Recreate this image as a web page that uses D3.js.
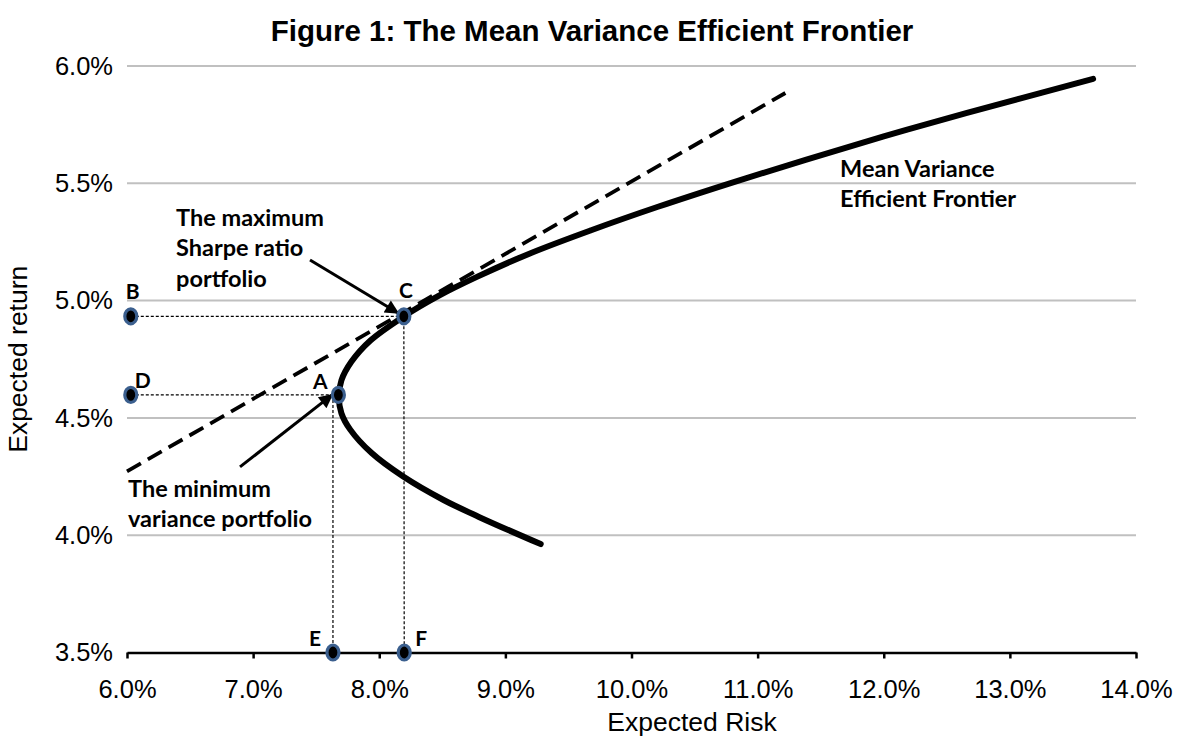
<!DOCTYPE html>
<html>
<head>
<meta charset="utf-8">
<script src="https://cdn.jsdelivr.net/npm/d3@7"></script>
<style>
  html, body { margin: 0; padding: 0; background: #ffffff; }
  svg { display: block; }
</style>
</head>
<body>
<svg id="chart" width="1189" height="737"></svg>
<script>
// ---------------- data ----------------
const xTickValues = [6, 7, 8, 9, 10, 11, 12, 13, 14];
const xTickLabels = ["6.0%", "7.0%", "8.0%", "9.0%", "10.0%", "11.0%", "12.0%", "13.0%", "14.0%"];
const yTickValues = [3.5, 4.0, 4.5, 5.0, 5.5, 6.0];
const yTickLabels = ["3.5%", "4.0%", "4.5%", "5.0%", "5.5%", "6.0%"];

// efficient frontier (expected risk %, expected return %)
const frontierRisk   = [9.28, 8.79, 8.51, 8.19, 7.94, 7.77, 7.70, 7.68, 7.70, 7.78, 7.93, 8.19, 8.47, 8.77, 9.19, 9.68, 10.21, 10.78, 11.38, 12.00, 12.66, 13.66];
const frontierReturn = [3.962, 4.078, 4.15, 4.25, 4.35, 4.45, 4.52, 4.59, 4.66, 4.74, 4.83, 4.931, 5.02, 5.10, 5.20, 5.30, 5.40, 5.50, 5.60, 5.70, 5.80, 5.945];

// tangent (capital market) line
const tangentRisk   = [6.0, 11.22];
const tangentReturn = [4.272, 5.885];

// labelled points
const pointNames  = ["A", "B", "C", "D", "E", "F"];
const pointRisk   = [7.676, 6.03, 8.195, 6.03, 7.633, 8.198];
const pointReturn = [4.598, 4.933, 4.933, 4.598, 3.5, 3.5];

// annotation texts and their anchor (risk, return)
const annotationLines = [
  ["The maximum", "Sharpe ratio", "portfolio"],
  ["The minimum", "variance portfolio"],
  ["Mean Variance", "Efficient Frontier"]
];
const annotationRisk   = [6.389, 6.008, 11.654];
const annotationReturn = [5.318, 4.163, 5.527];

// arrows (from -> to), in data units
const arrowFromRisk   = [7.451, 6.896];
const arrowFromReturn = [5.173, 4.291];
const arrowToRisk     = [8.149, 7.626];
const arrowToReturn   = [4.947, 4.598];

const titleText = "Figure 1: The Mean Variance Efficient Frontier";
const xTitle = "Expected Risk";
const yTitle = "Expected return";

// ---------------- layout / style ----------------
const W = 1189, H = 737;
const plot = { left: 127, right: 1136, top: 66, bottom: 652.5 };
const labelOffsets = { // label offset (px) relative to marker centre: dx, baseline dy
  A: [-18, -6], B: [2, -17], C: [2, -18], D: [12, -7], E: [-18, -7], F: [17, -7]
};
const sansFont = "'Liberation Sans', Arial, sans-serif";
const calFont = "Lato, 'Open Sans', sans-serif";

const svg = d3.select("#chart");
svg.append("rect").attr("width", W).attr("height", H).attr("fill", "#fff");

const x = d3.scaleLinear().domain([6, 14]).range([plot.left, plot.right]);
const y = d3.scaleLinear().domain([3.5, 6.0]).range([plot.bottom, plot.top]);

// gridlines
svg.append("g").selectAll("line")
  .data(yTickValues.filter(v => v > 3.5))
  .join("line")
  .attr("x1", plot.left).attr("x2", plot.right)
  .attr("y1", d => y(d)).attr("y2", d => y(d))
  .attr("stroke", "#c0c0c0").attr("stroke-width", 2);

// x axis
const xAxis = d3.axisBottom(x)
  .tickValues(xTickValues)
  .tickFormat((d, i) => xTickLabels[i])
  .tickSize(6).tickSizeOuter(0).tickPadding(21);
const gx = svg.append("g").attr("transform", `translate(0,${plot.bottom})`).call(xAxis);
gx.select(".domain").attr("stroke", "#000").attr("stroke-width", 2.5);
gx.selectAll(".tick line").attr("stroke", "#000").attr("stroke-width", 2.5);
gx.selectAll(".tick text").attr("font-family", sansFont).attr("font-size", 25.5).attr("fill", "#000");

// y axis (labels only)
const yAxis = d3.axisLeft(y)
  .tickValues(yTickValues)
  .tickFormat((d, i) => yTickLabels[i])
  .tickSize(0).tickPadding(14);
const gy = svg.append("g").attr("transform", `translate(${plot.left},0)`).call(yAxis);
gy.select(".domain").remove();
gy.selectAll(".tick text").attr("font-family", sansFont).attr("font-size", 25.5).attr("fill", "#000");

// tangent dashed line
const line = d3.line().x(d => x(d[0])).y(d => y(d[1]));
svg.append("path")
  .datum(tangentRisk.map((r, i) => [r, tangentReturn[i]]))
  .attr("d", line)
  .attr("fill", "none").attr("stroke", "#000").attr("stroke-width", 3.8)
  .attr("stroke-dasharray", "16,8");

// frontier
const frontierLine = d3.line().x(d => x(d[0])).y(d => y(d[1])).curve(d3.curveCatmullRom.alpha(0.5));
svg.append("path")
  .datum(frontierRisk.map((r, i) => [r, frontierReturn[i]]))
  .attr("d", frontierLine)
  .attr("fill", "none").attr("stroke", "#000").attr("stroke-width", 6)
  .attr("stroke-linecap", "round");

// guide dashed lines
const P = {};
pointNames.forEach((n, i) => P[n] = [pointRisk[i], pointReturn[i]]);
const guides = [
  [P.B, P.C],
  [P.C, P.F],
  [P.D, [P.E[0], P.A[1]]],
  [[P.E[0], P.A[1]], P.E]
];
svg.append("g").selectAll("path").data(guides).join("path")
  .attr("d", line)
  .attr("fill", "none").attr("stroke", "#000").attr("stroke-width", 1.2)
  .attr("stroke-dasharray", "3,2");

// arrows
const defs = svg.append("defs");
defs.append("marker").attr("id", "arrowhead")
  .attr("viewBox", "0 0 10 10").attr("refX", 9).attr("refY", 5)
  .attr("markerWidth", 16).attr("markerHeight", 14)
  .attr("markerUnits", "userSpaceOnUse").attr("orient", "auto")
  .append("path").attr("d", "M0,0 L10,5 L0,10 Z").attr("fill", "#000");
svg.append("g").selectAll("line").data(arrowFromRisk).join("line")
  .attr("x1", (d, i) => x(arrowFromRisk[i])).attr("y1", (d, i) => y(arrowFromReturn[i]))
  .attr("x2", (d, i) => x(arrowToRisk[i])).attr("y2", (d, i) => y(arrowToReturn[i]))
  .attr("stroke", "#000").attr("stroke-width", 3)
  .attr("marker-end", "url(#arrowhead)");

// point markers
svg.append("g").selectAll("ellipse").data(pointNames).join("ellipse")
  .attr("cx", (d, i) => x(pointRisk[i])).attr("cy", (d, i) => y(pointReturn[i]))
  .attr("rx", 6).attr("ry", 7.5)
  .attr("fill", "#000").attr("stroke", "#3b5f8e").attr("stroke-width", 3.2);

// point labels
svg.append("g").selectAll("text").data(pointNames).join("text")
  .attr("x", (d, i) => x(pointRisk[i]) + labelOffsets[d][0])
  .attr("y", (d, i) => y(pointReturn[i]) + labelOffsets[d][1])
  .attr("text-anchor", "middle")
  .attr("font-family", calFont).attr("font-weight", 700).attr("font-size", 21)
  .attr("fill", "#000")
  .text(d => d);

// annotations
annotationLines.forEach((lines, k) => {
  const t = svg.append("text")
    .attr("x", x(annotationRisk[k])).attr("y", y(annotationReturn[k]))
    .attr("font-family", calFont).attr("font-weight", 700).attr("font-size", 23.5)
    .attr("fill", "#000");
  lines.forEach((s, j) => {
    t.append("tspan").attr("x", x(annotationRisk[k])).attr("dy", j === 0 ? 0 : 30.5).text(s);
  });
});

// titles
svg.append("text")
  .attr("x", 592).attr("y", 41)
  .attr("text-anchor", "middle")
  .attr("font-family", sansFont).attr("font-weight", 700).attr("font-size", 29.5)
  .text(titleText);
svg.append("text")
  .attr("x", 692).attr("y", 731)
  .attr("text-anchor", "middle")
  .attr("font-family", sansFont).attr("font-size", 26.5)
  .text(xTitle);
svg.append("text")
  .attr("transform", `translate(27,${(plot.top + plot.bottom) / 2}) rotate(-90)`)
  .attr("text-anchor", "middle")
  .attr("font-family", sansFont).attr("font-size", 26.5)
  .text(yTitle);
</script>
</body>
</html>
